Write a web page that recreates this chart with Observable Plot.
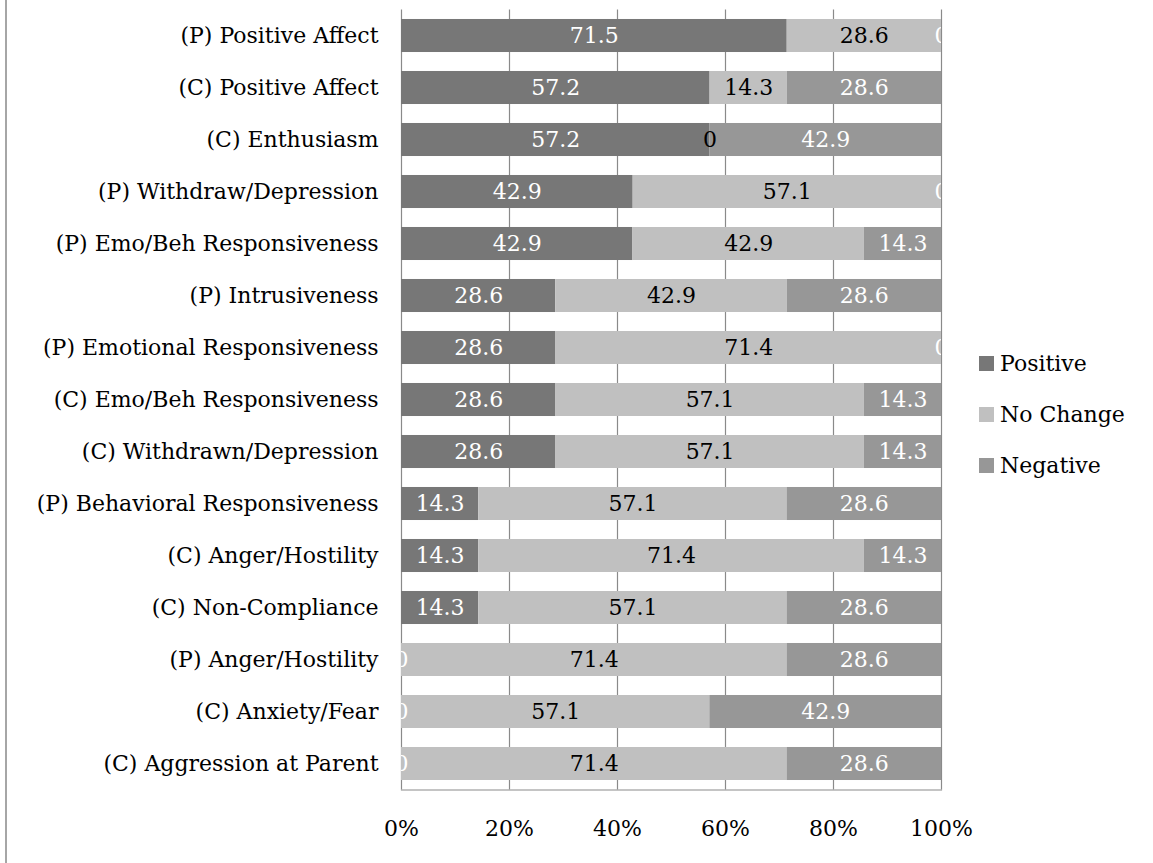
<!DOCTYPE html>
<html>
<head>
<meta charset="utf-8">
<script src="https://cdn.jsdelivr.net/npm/d3@7"></script>
<script src="https://cdn.jsdelivr.net/npm/@observablehq/plot@0.6"></script>
<style>
  html, body { margin: 0; padding: 0; background: #fff; }
  #wrap { position: relative; width: 1153px; height: 863px; overflow: hidden; font-family: "DejaVu Serif", serif; }
  #frameLine { position: absolute; left: 5px; top: 0; width: 2px; height: 863px; background: #a6a6a6; }
  #chart { position: absolute; left: 0; top: 0; }
  .leg { position: absolute; left: 979px; display: flex; align-items: center; font-size: 22px; color: #000; white-space: nowrap; }
  .leg .sw { width: 15px; height: 15px; margin-right: 6px; }
</style>
</head>
<body>
<div id="wrap">
  <div id="frameLine"></div>
  <div id="chart"></div>
  <div id="legend"></div>
</div>
<script>
const categories = [
  "(P) Positive Affect",
  "(C) Positive Affect",
  "(C) Enthusiasm",
  "(P) Withdraw/Depression",
  "(P) Emo/Beh Responsiveness",
  "(P) Intrusiveness",
  "(P) Emotional Responsiveness",
  "(C) Emo/Beh Responsiveness",
  "(C) Withdrawn/Depression",
  "(P) Behavioral Responsiveness",
  "(C) Anger/Hostility",
  "(C) Non-Compliance",
  "(P) Anger/Hostility",
  "(C) Anxiety/Fear",
  "(C) Aggression at Parent"
];
const positive = [71.5, 57.2, 57.2, 42.9, 42.9, 28.6, 28.6, 28.6, 28.6, 14.3, 14.3, 14.3, 0, 0, 0];
const noChange = [28.6, 14.3, 0, 57.1, 42.9, 42.9, 71.4, 57.1, 57.1, 57.1, 71.4, 57.1, 71.4, 57.1, 71.4];
const negative = [0, 28.6, 42.9, 0, 14.3, 28.6, 0, 14.3, 14.3, 28.6, 14.3, 28.6, 28.6, 42.9, 28.6];
const seriesNames = ["Positive", "No Change", "Negative"];
const seriesColors = ["#777777", "#c0c0c0", "#979797"];
const labelColors = ["#ffffff", "#000000", "#ffffff"];
const xTicks = [0, 0.2, 0.4, 0.6, 0.8, 1];

const seriesValues = [positive, noChange, negative];
const rows = [];
categories.forEach((cat, i) => {
  seriesNames.forEach((s, j) => {
    rows.push({cat, series: s, value: seriesValues[j][i]});
  });
});

const stackOpts = {x: "value", y: "cat", z: "series", offset: "normalize", order: null};

const labelMarks = seriesNames.map((s, j) =>
  Plot.text(rows, Plot.filter(d => d.series === s, Plot.stackX({
    ...stackOpts,
    text: d => String(d.value),
    fill: labelColors[j],
    fontSize: 22,
    clip: true
  })))
);

const chart = Plot.plot({
  width: 1153,
  height: 863,
  marginTop: 9.5,
  marginBottom: 73.5,
  marginLeft: 401,
  marginRight: 212,
  style: {fontFamily: "DejaVu Serif, serif", fontSize: "22px", background: "transparent", color: "#000"},
  x: {domain: [0, 1], axis: null},
  y: {domain: categories, paddingInner: 0.365, paddingOuter: 0.1825, round: false, axis: null},
  color: {domain: seriesNames, range: seriesColors},
  marks: [
    Plot.ruleX(xTicks, {stroke: "#8a8a8a", strokeWidth: 1.2}),
    Plot.frame({anchor: "bottom", stroke: "#8a8a8a", strokeWidth: 1.2}),
    Plot.barX(rows, Plot.stackX({...stackOpts, fill: "series"})),
    ...labelMarks,
    Plot.axisY({tickSize: 0, tickPadding: 23, fontSize: 22, label: null}),
    Plot.axisX({ticks: xTicks, tickFormat: d3.format(".0%"), tickSize: 0, tickPadding: 30, fontSize: 22, label: null})
  ]
});
document.getElementById("chart").appendChild(chart);

const legendY = [363, 414, 465];
const legend = document.getElementById("legend");
seriesNames.forEach((s, j) => {
  const item = document.createElement("div");
  item.className = "leg";
  item.style.top = (legendY[j] - 15) + "px";
  item.style.height = "30px";
  const sw = document.createElement("span");
  sw.className = "sw";
  sw.style.background = seriesColors[j];
  const t = document.createElement("span");
  t.textContent = s;
  item.appendChild(sw);
  item.appendChild(t);
  legend.appendChild(item);
});
</script>
</body>
</html>
